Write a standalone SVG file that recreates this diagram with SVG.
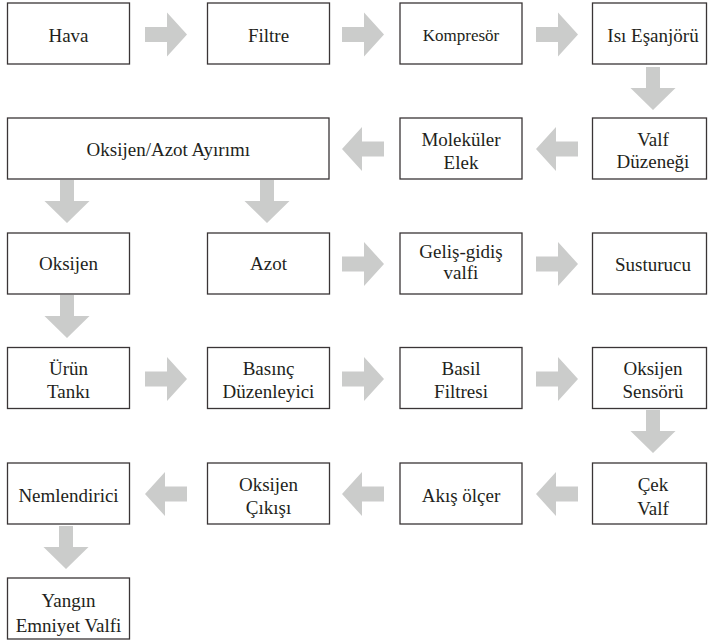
<svg xmlns="http://www.w3.org/2000/svg" xmlns:xlink="http://www.w3.org/1999/xlink" width="708" height="644" viewBox="0 0 708 644" font-family="Liberation Serif, Times New Roman, serif">
<style>
.box{fill:#fff;stroke:#3a3536;stroke-width:1.3}
text{font-size:19px;fill:#231f20;text-anchor:middle}
.s{font-size:17px}
.ar{fill:#cbcccb}
</style>
<defs>
<path id="arR" d="M-21,-7.5 H1 V-22 L21,0 L1,22 V7.5 H-21 Z"/>
<path id="arL" d="M21,-7.5 H-1 V-22 L-21,0 L-1,22 V7.5 H21 Z"/>
<path id="arD" d="M-7,-21 H7 V0 H22.5 L0,22 L-22.5,0 H-7 Z"/>
</defs>
<rect width="708" height="644" fill="#fff"/>
<g id="connectors" class="ar">
<use xlink:href="#arR" x="166" y="34.5"/>
<use xlink:href="#arR" x="363" y="34.5"/>
<use xlink:href="#arR" x="557" y="34.5"/>
<use xlink:href="#arD" x="653" y="88"/>
<use xlink:href="#arL" x="557" y="149"/>
<use xlink:href="#arL" x="363" y="149"/>
<use xlink:href="#arD" x="67" y="201"/>
<use xlink:href="#arD" x="267" y="201"/>
<use xlink:href="#arR" x="363" y="264"/>
<use xlink:href="#arR" x="557" y="264"/>
<use xlink:href="#arD" x="67" y="316"/>
<use xlink:href="#arR" x="166" y="379"/>
<use xlink:href="#arR" x="363" y="379"/>
<use xlink:href="#arR" x="557" y="379"/>
<use xlink:href="#arD" x="653" y="431"/>
<use xlink:href="#arL" x="557" y="494"/>
<use xlink:href="#arL" x="363" y="494"/>
<use xlink:href="#arL" x="166" y="494"/>
<use xlink:href="#arD" x="66" y="547"/>
</g>
<g id="hava"><rect class="box" x="7.5" y="3" width="122" height="61"/><text x="68.5" y="42">Hava</text></g>
<g id="filtre"><rect class="box" x="207.5" y="3" width="122" height="61"/><text x="268.5" y="42">Filtre</text></g>
<g id="kompresor"><rect class="box" x="400" y="3" width="122" height="61"/><text class="s" x="461" y="41">Kompresör</text></g>
<g id="isi-esanjoru"><rect class="box" x="592.5" y="3" width="114" height="61"/><text x="653" y="41.5">Isı Eşanjörü</text></g>

<g id="oksijen-azot-ayirimi"><rect class="box" x="7.5" y="118" width="321.5" height="61"/><text x="168.3" y="155.5">Oksijen/Azot Ayırımı</text></g>
<g id="molekuler-elek"><rect class="box" x="400" y="118" width="122" height="61"/><text x="461" y="146">Moleküler</text><text x="461" y="168.5">Elek</text></g>
<g id="valf-duzenegi"><rect class="box" x="592.5" y="118" width="114" height="61"/><text x="653" y="146">Valf</text><text x="653" y="168">Düzeneği</text></g>

<g id="oksijen"><rect class="box" x="7.5" y="233" width="122" height="61"/><text x="68.5" y="270">Oksijen</text></g>
<g id="azot"><rect class="box" x="207.5" y="233" width="122" height="61"/><text x="268.5" y="270">Azot</text></g>
<g id="gelis-gidis-valfi"><rect class="box" x="400" y="233" width="122" height="61"/><text x="461" y="257.5">Geliş-gidiş</text><text x="461" y="278.5">valfi</text></g>
<g id="susturucu"><rect class="box" x="592.5" y="233" width="114" height="61"/><text x="653" y="271">Susturucu</text></g>

<g id="urun-tanki"><rect class="box" x="7.5" y="347.5" width="122" height="61"/><text x="68.5" y="375">Ürün</text><text x="68.5" y="398">Tankı</text></g>
<g id="basinc-duzenleyici"><rect class="box" x="207.5" y="347.5" width="122" height="61"/><text x="268.5" y="374.5">Basınç</text><text x="268.5" y="397.5">Düzenleyici</text></g>
<g id="basil-filtresi"><rect class="box" x="400" y="347.5" width="122" height="61"/><text x="461" y="374.5">Basil</text><text x="461" y="398">Filtresi</text></g>
<g id="oksijen-sensoru"><rect class="box" x="592.5" y="347.5" width="114" height="61"/><text x="653" y="374.5">Oksijen</text><text x="653" y="398">Sensörü</text></g>

<g id="nemlendirici"><rect class="box" x="7.5" y="463" width="122" height="61"/><text x="68.5" y="502">Nemlendirici</text></g>
<g id="oksijen-cikisi"><rect class="box" x="207.5" y="463" width="122" height="61"/><text x="268.5" y="490.5">Oksijen</text><text x="268.5" y="513.5">Çıkışı</text></g>
<g id="akis-olcer"><rect class="box" x="400" y="463" width="122" height="61"/><text x="461" y="502">Akış ölçer</text></g>
<g id="cek-valf"><rect class="box" x="592.5" y="463" width="114" height="61"/><text x="653" y="491">Çek</text><text x="653" y="514.5">Valf</text></g>

<g id="yangin-emniyet-valfi"><rect class="box" x="7.5" y="578" width="122" height="61"/><text x="68.5" y="607">Yangın</text><text x="68.5" y="631.5">Emniyet Valfi</text></g>
</svg>
